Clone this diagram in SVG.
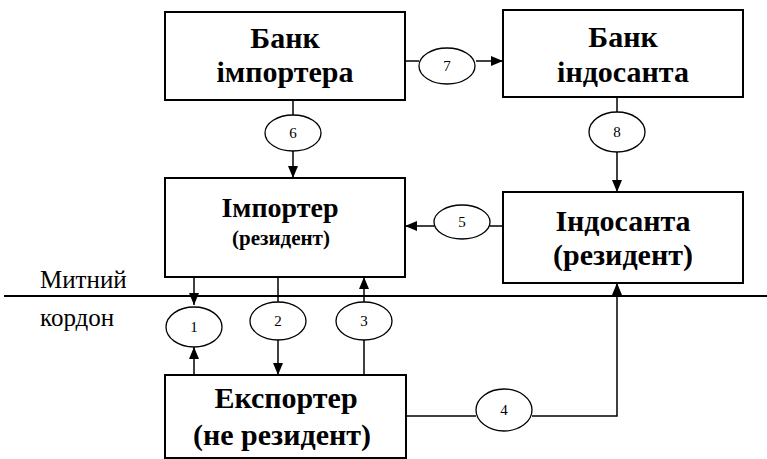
<svg xmlns="http://www.w3.org/2000/svg" width="767" height="459" viewBox="0 0 767 459">
<defs>
<marker id="ah" viewBox="0 0 12 10" refX="12" refY="5" markerWidth="12" markerHeight="10" markerUnits="userSpaceOnUse" orient="auto">
<path d="M0,0 L12,5 L0,10 z" fill="#000"/>
</marker>
</defs>
<rect width="767" height="459" fill="#fff"/>

<g id="customs-border">
<line x1="4" y1="296" x2="767" y2="296" stroke="#000" stroke-width="2"/>
<text x="40" y="288" style="font-family:'Liberation Serif',serif;font-size:25px">Митний</text>
<text x="40" y="326" style="font-family:'Liberation Serif',serif;font-size:25px">кордон</text>
</g>

<g id="connectors" fill="none" stroke="#000" stroke-width="1.5">
<line x1="405" y1="61" x2="419" y2="61"/>
<line x1="476" y1="61" x2="503" y2="61" marker-end="url(#ah)"/>
<line x1="293" y1="100" x2="293" y2="115"/>
<line x1="293" y1="151" x2="293" y2="178" marker-end="url(#ah)"/>
<line x1="617" y1="97" x2="617" y2="112"/>
<line x1="617" y1="152" x2="617" y2="192" marker-end="url(#ah)"/>
<line x1="503" y1="226" x2="490" y2="226"/>
<line x1="434" y1="226" x2="405" y2="226" marker-end="url(#ah)"/>
<line x1="194" y1="277" x2="194" y2="305" marker-end="url(#ah)"/>
<line x1="194" y1="375" x2="194" y2="347" marker-end="url(#ah)"/>
<line x1="278" y1="277" x2="278" y2="302"/>
<line x1="278" y1="340" x2="278" y2="375" marker-end="url(#ah)"/>
<line x1="364" y1="375" x2="364" y2="340"/>
<line x1="364" y1="302" x2="364" y2="277" marker-end="url(#ah)"/>
<line x1="406" y1="416" x2="476" y2="416"/>
<polyline points="532,416 617,416 617,283" marker-end="url(#ah)"/>
</g>

<g id="bank-importer">
<rect x="165" y="12" width="240" height="88" fill="#fff" stroke="#000" stroke-width="2"/>
<text x="285" y="48" text-anchor="middle" style="font-family:'Liberation Serif',serif;font-weight:bold;font-size:30px">Банк</text>
<text x="285" y="82" text-anchor="middle" style="font-family:'Liberation Serif',serif;font-weight:bold;font-size:30px">імпортера</text>
</g>

<g id="bank-endorser">
<rect x="503" y="10" width="240" height="87" fill="#fff" stroke="#000" stroke-width="2"/>
<text x="623" y="47" text-anchor="middle" style="font-family:'Liberation Serif',serif;font-weight:bold;font-size:30px">Банк</text>
<text x="623" y="82" text-anchor="middle" style="font-family:'Liberation Serif',serif;font-weight:bold;font-size:30px">індосанта</text>
</g>

<g id="importer">
<rect x="165" y="178" width="240" height="99" fill="#fff" stroke="#000" stroke-width="2"/>
<text x="280" y="217" text-anchor="middle" style="font-family:'Liberation Serif',serif;font-weight:bold;font-size:28px">Імпортер</text>
<text x="281" y="245" text-anchor="middle" style="font-family:'Liberation Serif',serif;font-weight:bold;font-size:21px">(резидент)</text>
</g>

<g id="endorser">
<rect x="503" y="192" width="240" height="91" fill="#fff" stroke="#000" stroke-width="2"/>
<text x="623" y="231" text-anchor="middle" style="font-family:'Liberation Serif',serif;font-weight:bold;font-size:30px">Індосанта</text>
<text x="623" y="265" text-anchor="middle" style="font-family:'Liberation Serif',serif;font-weight:bold;font-size:30px">(резидент)</text>
</g>

<g id="exporter">
<rect x="165" y="375" width="241" height="83" fill="#fff" stroke="#000" stroke-width="2"/>
<text x="286" y="408" text-anchor="middle" style="font-family:'Liberation Serif',serif;font-weight:bold;font-size:30px">Експортер</text>
<text x="282" y="445" text-anchor="middle" style="font-family:'Liberation Serif',serif;font-weight:bold;font-size:30px">(не резидент)</text>
</g>

<g id="step-1"><ellipse cx="194" cy="327" rx="28" ry="20" fill="#fff" stroke="#000" stroke-width="1.3"/><text x="194" y="332" text-anchor="middle" style="font-family:'Liberation Serif',serif;font-size:15px">1</text></g>
<g id="step-2"><ellipse cx="278" cy="321" rx="28" ry="19" fill="#fff" stroke="#000" stroke-width="1.3"/><text x="278" y="326" text-anchor="middle" style="font-family:'Liberation Serif',serif;font-size:15px">2</text></g>
<g id="step-3"><ellipse cx="364" cy="321" rx="28" ry="19" fill="#fff" stroke="#000" stroke-width="1.3"/><text x="364" y="326" text-anchor="middle" style="font-family:'Liberation Serif',serif;font-size:15px">3</text></g>
<g id="step-4"><ellipse cx="504" cy="410" rx="28" ry="21" fill="#fff" stroke="#000" stroke-width="1.3"/><text x="504" y="415" text-anchor="middle" style="font-family:'Liberation Serif',serif;font-size:15px">4</text></g>
<g id="step-5"><ellipse cx="462" cy="222" rx="28" ry="17" fill="#fff" stroke="#000" stroke-width="1.3"/><text x="462" y="227" text-anchor="middle" style="font-family:'Liberation Serif',serif;font-size:15px">5</text></g>
<g id="step-6"><ellipse cx="293" cy="133" rx="28" ry="18" fill="#fff" stroke="#000" stroke-width="1.3"/><text x="293" y="138" text-anchor="middle" style="font-family:'Liberation Serif',serif;font-size:15px">6</text></g>
<g id="step-7"><ellipse cx="447" cy="66" rx="28" ry="18" fill="#fff" stroke="#000" stroke-width="1.3"/><text x="447" y="71" text-anchor="middle" style="font-family:'Liberation Serif',serif;font-size:15px">7</text></g>
<g id="step-8"><ellipse cx="617" cy="132" rx="28" ry="20" fill="#fff" stroke="#000" stroke-width="1.3"/><text x="617" y="137" text-anchor="middle" style="font-family:'Liberation Serif',serif;font-size:15px">8</text></g>
</svg>
